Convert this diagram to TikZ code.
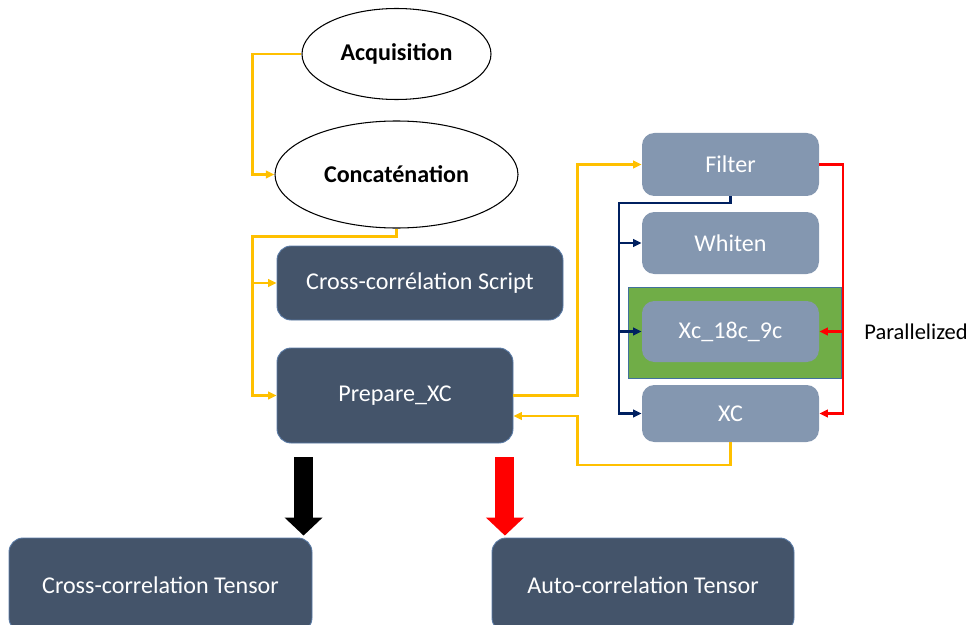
\documentclass[tikz,border=0pt]{standalone}
\usepackage{fontspec}
\setmainfont{Carlito}
\usepackage{tikz}
\usetikzlibrary{arrows.meta,calc,positioning,shapes.geometric}
\definecolor{SlateDark}{HTML}{44546A}
\definecolor{SlateEdge}{HTML}{5A7BA6}
\definecolor{SlateLight}{HTML}{8497B0}
\definecolor{FlowYellow}{HTML}{FFC000}
\definecolor{FlowNavy}{HTML}{002060}
\definecolor{FlowRed}{HTML}{FF0000}
\definecolor{ParGreen}{HTML}{70AD47}
\definecolor{ParEdge}{HTML}{41719C}

\begin{document}
\begin{tikzpicture}[
    >={Triangle[length=0.17cm,width=0.15cm]},
    every node/.style={font=\fontsize{13.7pt}{16pt}\selectfont},
    ellip/.style={draw=black,ellipse,fill=white,line width=0.6pt,font=\fontsize{13.7pt}{16pt}\selectfont\bfseries},
    darkbox/.style={draw=SlateEdge,fill=SlateDark,text=white,rounded corners=8pt,line width=0.5pt},
    lightbox/.style={fill=SlateLight,text=white,rounded corners=7pt,minimum width=3.54cm},
    yel/.style={FlowYellow,line width=1.3pt,->},
    nav/.style={FlowNavy,line width=1.2pt,->},
    redl/.style={FlowRed,line width=1.2pt,->},
    fat/.style={line width=0.38cm,-{Triangle[length=0.36cm,width=0.74cm]}}
  ]
  \useasboundingbox (0,0) rectangle (19.48,-12.5);

  % left column
  \node[ellip,minimum width=3.78cm,minimum height=1.82cm] (acq) at (7.93,-1.08) {Acquisition};
  \node[ellip,minimum width=4.86cm,minimum height=2.14cm] (conc) at (7.93,-3.49) {Concaténation};
  \node[darkbox,minimum width=5.72cm,minimum height=1.48cm] (ccs) at (8.4,-5.66) {Cross-corrélation Script};
  \node[darkbox,minimum width=4.72cm,minimum height=1.9cm] (prep) at (7.9,-7.91) {Prepare\_XC};

  % right column
  \node[draw=ParEdge,fill=ParGreen,line width=0.5pt,minimum width=4.26cm,minimum height=1.82cm] (par) at (14.69,-6.65) {};
  \node[lightbox,minimum height=1.26cm] (filter) at (14.61,-3.29) {Filter};
  \node[lightbox,minimum height=1.24cm] (whiten) at (14.61,-4.86) {Whiten};
  \node[lightbox,minimum height=1.22cm] (xc18) at (14.61,-6.63) {Xc\_18c\_9c};
  \node[lightbox,minimum height=1.14cm] (xc) at (14.61,-8.27) {XC};
  \node[anchor=west,inner sep=0pt,font=\fontsize{12.8pt}{15pt}\selectfont] (parlab) at (17.28,-6.64) {Parallelized};

  % outputs
  \node[darkbox,minimum width=6.06cm,minimum height=1.88cm] (cct) at (3.21,-11.7) {Cross-correlation Tensor};
  \node[darkbox,minimum width=6.04cm,minimum height=1.88cm] (act) at (12.86,-11.7) {Auto-correlation Tensor};

  % yellow flow
  \coordinate (bus) at ($(prep.west)+(-0.48,0)$);
  \draw[yel] (acq.west) -- ++(-0.98,0) |- (conc.west);
  \draw[yel] (conc.south) -- ++(0,-0.16) -| (bus) -- (prep.west);
  \draw[yel] (bus |- ccs.west) -- (ccs.west);
  \draw[yel] (prep.east) -- ++(1.28,0) |- (filter.west);
  \draw[yel] (xc.south) -- ++(0,-0.46) -| ($(prep.east)+(1.28,-0.41)$) -- ($(prep.east)+(0,-0.41)$);

  % navy flow
  \coordinate (nbus) at ($(xc.west)+(-0.46,0)$);
  \draw[nav] (filter.south) -- ++(0,-0.14) -| (nbus) -- (xc.west);
  \foreach \n in {whiten,xc18} {
    \draw[nav] (nbus |- \n.west) -- (\n.west);
  }

  % red flow
  \coordinate (rbus) at ($(xc.east)+(0.48,0)$);
  \draw[redl] (filter.east) -| (rbus) -- (xc.east);
  \draw[redl] (rbus |- xc18.east) -- (xc18.east);

  % big arrows
  \draw[fat,black] ($(prep.south west)+(0.54,-0.28)$) -- ($(prep.south west |- cct.north)+(0.54,0.04)$);
  \draw[fat,FlowRed] ($(prep.south east)+(-0.17,-0.28)$) -- ($(prep.south east |- act.north)+(-0.17,0.04)$);
\end{tikzpicture}
\end{document}
